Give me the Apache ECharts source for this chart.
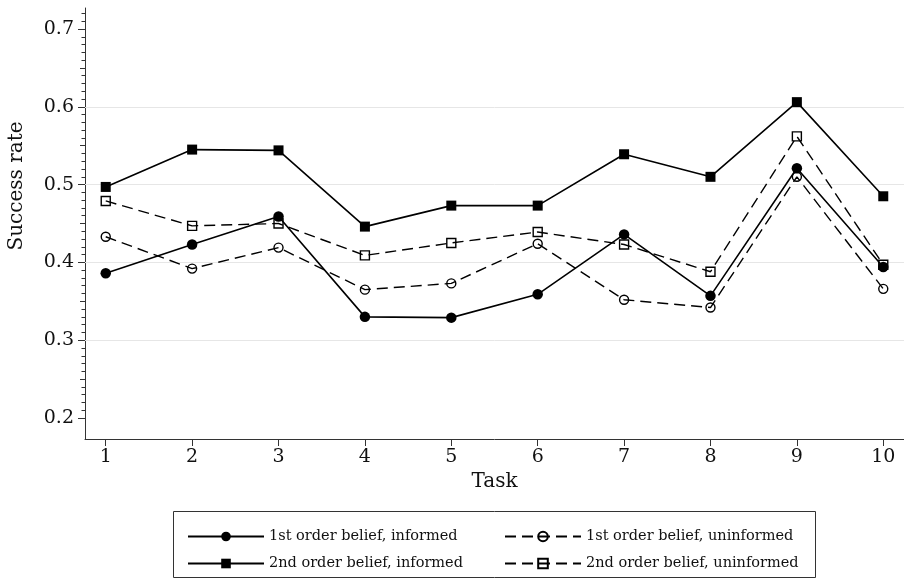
<!DOCTYPE html>
<html>
<head>
<meta charset="utf-8">
<script src="https://cdn.jsdelivr.net/npm/echarts@6/dist/echarts.min.js"></script>
<style>
  html, body { margin: 0; padding: 0; background: #fff; }
  #chart { width: 904px; height: 579px; }
</style>
</head>
<body>
<div id="chart"></div>
<script>
// Success rate per task, by belief order and information condition
const tasks = [1, 2, 3, 4, 5, 6, 7, 8, 9, 10];
const firstInformed    = [0.386, 0.423, 0.459, 0.330, 0.329, 0.359, 0.436, 0.357, 0.521, 0.394];
const secondInformed   = [0.497, 0.545, 0.544, 0.446, 0.473, 0.473, 0.539, 0.510, 0.606, 0.485];
const firstUninformed  = [0.433, 0.392, 0.419, 0.365, 0.373, 0.424, 0.352, 0.342, 0.510, 0.366];
const secondUninformed = [0.479, 0.447, 0.450, 0.409, 0.425, 0.439, 0.423, 0.388, 0.562, 0.397];

const seriesNames = [
  '1st order belief, informed',
  '2nd order belief, informed',
  '1st order belief, uninformed',
  '2nd order belief, uninformed'
];

// Axis ticks and labels
const yMajorTicks = [0.2, 0.3, 0.4, 0.5, 0.6, 0.7];
const yMidTicks = [0.25, 0.35, 0.45, 0.55, 0.65];
const yGridLines = [0.3, 0.4, 0.5, 0.6];
const xTicks = tasks;

// Small hundredth ticks between 0.21 and 0.72
const yMinorTicks = [];
for (let k = 21; k <= 72; k++) {
  if (k % 5 !== 0) yMinorTicks.push(k / 100);
}

const Y_MIN = 0.173, Y_MAX = 0.727;
const X_MIN = 0.76, X_MAX = 10.24;
const FONT = 'DejaVu Serif';
const INK = '#111';
const AXIS = '#333';

function pairs(values) {
  return tasks.map((t, i) => [t, values[i]]);
}

function tickAxis(values, len) {
  return {
    type: 'value', position: 'left', gridIndex: 0,
    min: Y_MIN, max: Y_MAX,
    axisLine: { show: false },
    axisLabel: { show: false },
    splitLine: { show: false },
    axisTick: { show: true, customValues: values, length: len, lineStyle: { color: AXIS, width: 1 } }
  };
}

const solid = { color: '#000', width: 1.6, type: 'solid' };
const dashed = { color: '#000', width: 1.4, type: [11, 6] };

const chart = echarts.init(document.getElementById('chart'), null, { renderer: 'canvas' });

chart.setOption({
  animation: false,
  backgroundColor: '#fff',
  textStyle: { fontFamily: FONT, color: INK },
  grid: { left: 85, right: 0, top: 8, bottom: 140, containLabel: false },
  xAxis: {
    type: 'value', min: X_MIN, max: X_MAX,
    name: 'Task', nameLocation: 'middle', nameGap: 33,
    nameTextStyle: { fontFamily: FONT, fontSize: 20, color: INK },
    axisLine: { show: true, lineStyle: { color: AXIS, width: 1 } },
    axisTick: { show: true, customValues: xTicks, length: 7, lineStyle: { color: AXIS } },
    axisLabel: { customValues: xTicks, fontFamily: FONT, fontSize: 19, color: INK, margin: 9 },
    splitLine: { show: false }
  },
  yAxis: [
    {
      type: 'value', position: 'left', min: Y_MIN, max: Y_MAX,
      axisLine: { show: true, lineStyle: { color: AXIS, width: 1 } },
      axisTick: { show: true, customValues: yMajorTicks, length: 7, lineStyle: { color: AXIS } },
      axisLabel: {
        customValues: yMajorTicks, fontFamily: FONT, fontSize: 19, color: INK, margin: 11,
        formatter: v => v.toFixed(1)
      },
      splitLine: { show: false }
    },
    tickAxis(yMidTicks, 5),
    tickAxis(yMinorTicks, 3.5)
  ],
  legend: [
    {
      orient: 'vertical', left: 182, top: 524, itemGap: 12,
      itemWidth: 76, itemHeight: 12,
      textStyle: { fontFamily: FONT, fontSize: 14.5, color: INK },
      data: [seriesNames[0], seriesNames[1]]
    },
    {
      orient: 'vertical', left: 499, top: 524, itemGap: 12,
      itemWidth: 76, itemHeight: 12,
      textStyle: { fontFamily: FONT, fontSize: 14.5, color: INK },
      data: [seriesNames[2], seriesNames[3]]
    }
  ],
  graphic: [
    {
      type: 'rect', silent: true,
      shape: { x: 173.5, y: 511.5, width: 642, height: 66 },
      style: { fill: 'none', stroke: '#333', lineWidth: 1 }
    },
    {
      type: 'text', silent: true, x: 17, y: 186, rotation: Math.PI / 2,
      style: {
        text: 'Success rate', font: '20px "DejaVu Serif"', fill: INK,
        textAlign: 'center', textVerticalAlign: 'middle'
      }
    }
  ],
  series: [
    {
      name: seriesNames[0], type: 'line', data: pairs(firstInformed),
      symbol: 'circle', symbolSize: 10.5,
      itemStyle: { color: '#000' }, lineStyle: solid,
      markLine: {
        silent: true, symbol: 'none', z: 1, animation: false,
        label: { show: false },
        lineStyle: { color: '#e6e6e6', type: 'solid', width: 1 },
        data: yGridLines.map(v => ({ yAxis: v }))
      }
    },
    {
      name: seriesNames[1], type: 'line', data: pairs(secondInformed),
      symbol: 'rect', symbolSize: 10,
      itemStyle: { color: '#000' }, lineStyle: solid
    },
    {
      name: seriesNames[2], type: 'line', data: pairs(firstUninformed),
      symbol: 'circle', symbolSize: 9,
      itemStyle: { color: 'rgba(255,255,255,0)', borderColor: '#000', borderWidth: 1.4 },
      lineStyle: dashed
    },
    {
      name: seriesNames[3], type: 'line', data: pairs(secondUninformed),
      symbol: 'rect', symbolSize: 9,
      itemStyle: { color: 'rgba(255,255,255,0)', borderColor: '#000', borderWidth: 1.4 },
      lineStyle: dashed
    }
  ]
});
</script>
</body>
</html>
